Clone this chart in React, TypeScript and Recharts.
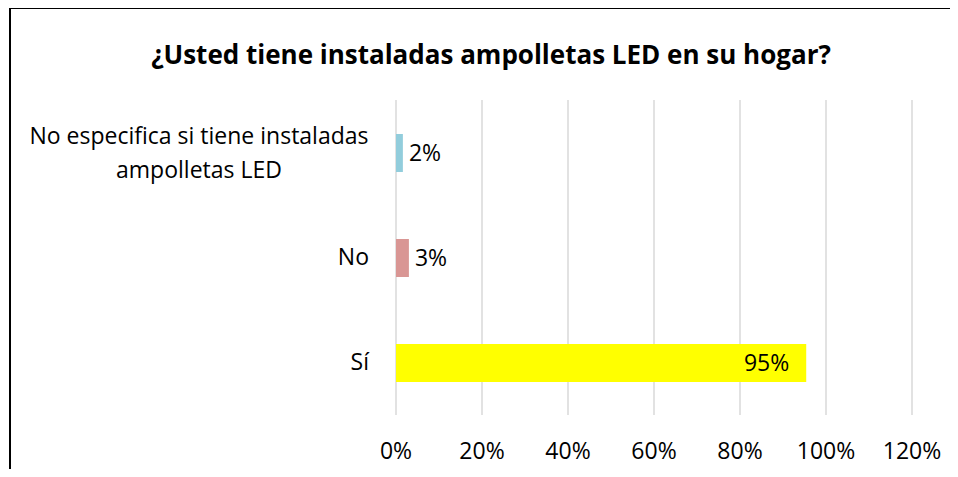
import { Bar, BarChart, CartesianGrid, Cell, LabelList, XAxis, YAxis } from 'recharts';

const categories = ['No especifica si tiene instaladas ampolletas LED', 'No', 'Sí'];
const categoryLines = [['No especifica si tiene instaladas', 'ampolletas LED'], ['No'], ['Sí']];
const values = [0.016, 0.03, 0.954];
const COLORS = ['#92CDDC', '#D99694', '#FFFF00'];
const xTicks = [0, 0.2, 0.4, 0.6, 0.8, 1.0, 1.2];

const TITLE = '¿Usted tiene instaladas ampolletas LED en su hogar?';
const FONT = '"Open Sans", sans-serif';

const data = categories.map((name, i) => ({ name, value: values[i] }));

const pct = (v: number) => `${Math.round(v * 100)}%`;

function CategoryTick(props: any) {
  const { x, y, payload } = props;
  const idx = categories.indexOf(payload.value);
  const lines = categoryLines[idx] ?? [payload.value];
  const right = x - 27;
  if (lines.length === 1) {
    return (
      <text x={right} y={y} dy={7} textAnchor="end" fontSize={23} fontFamily={FONT} fill="#000">
        {lines[0]}
      </text>
    );
  }
  // wrapped label: lines centred on each other, block right-aligned
  const cx = right - 170;
  return (
    <text textAnchor="middle" fontSize={23} fontFamily={FONT} fill="#000">
      {lines.map((l: string, i: number) => (
        <tspan key={i} x={cx} y={y + 8 + (i - (lines.length - 1) / 2) * 34}>
          {l}
        </tspan>
      ))}
    </text>
  );
}

function ValueLabel(props: any) {
  const { x, y, width, height, value } = props;
  const big = value > 0.5;
  return (
    <text
      x={big ? x + width - 17 : x + width + 6}
      y={y + height / 2}
      dy={8}
      textAnchor={big ? 'end' : 'start'}
      fontSize={23}
      fontFamily={FONT}
      fill="#000"
    >
      {pct(value)}
    </text>
  );
}

export default function App() {
  return (
    <div
      style={{
        position: 'relative',
        margin: -8,
        width: 958,
        height: 477,
        overflow: 'hidden',
        background: '#fff',
      }}
    >
      <div
        style={{
          position: 'absolute',
          left: 9,
          top: 7,
          width: 1000,
          height: 1000,
          border: '2px solid #000',
          boxSizing: 'border-box',
        }}
      />
      <div
        style={{
          position: 'absolute',
          left: 0,
          top: 36,
          width: 982,
          textAlign: 'center',
          fontFamily: FONT,
          fontWeight: 700,
          fontSize: 26,
          color: '#000',
        }}
      >
        {TITLE}
      </div>
      <div style={{ position: 'absolute', left: 0, top: 0 }}>
        <BarChart
          width={958}
          height={477}
          data={data}
          layout="vertical"
          margin={{ top: 100, right: 46, bottom: 0, left: 0 }}
        >
          <CartesianGrid horizontal={false} stroke="#D9D9D9" strokeWidth={1.5} />
          <XAxis
            type="number"
            domain={[0, 1.2]}
            ticks={xTicks}
            tickFormatter={pct}
            axisLine={false}
            tickLine={false}
            height={62}
            tickMargin={22}
            tick={{ fontSize: 23, fontFamily: FONT, fill: '#000' }}
          />
          <YAxis
            type="category"
            dataKey="name"
            width={396}
            axisLine={false}
            tickLine={false}
            tick={<CategoryTick />}
            tickMargin={0}
            tickSize={0}
          />
          <Bar dataKey="value" barSize={38} isAnimationActive={false}>
            {data.map((_, i) => (
              <Cell key={i} fill={COLORS[i]} />
            ))}
            <LabelList dataKey="value" content={<ValueLabel />} />
          </Bar>
        </BarChart>
      </div>
    </div>
  );
}
